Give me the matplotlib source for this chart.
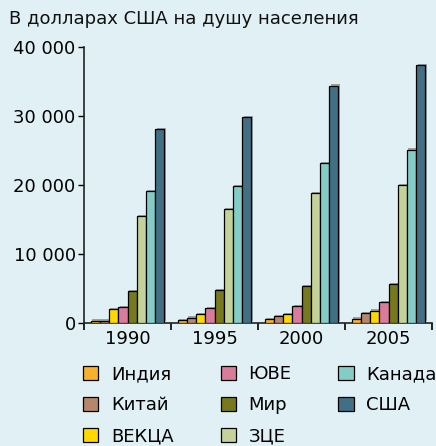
import matplotlib
matplotlib.use("Agg")
import matplotlib.pyplot as plt
import matplotlib.patheffects as pe
from matplotlib.patches import Patch
from matplotlib.ticker import FuncFormatter
import numpy as np

years = ["1990", "1995", "2000", "2005"]
regions = ["Индия", "Китай", "ВЕКЦА", "ЮВЕ", "Мир", "ЗЦЕ", "Канада", "США"]
values = {
    "Индия":  [300, 370, 480, 560],
    "Китай":  [300, 730, 920, 1360],
    "ВЕКЦА":  [1940, 1210, 1210, 1740],
    "ЮВЕ":    [2280, 2080, 2420, 2960],
    "Мир":    [4560, 4750, 5280, 5570],
    "ЗЦЕ":    [15460, 16480, 18800, 20010],
    "Канада": [19090, 19870, 23160, 25150],
    "США":    [28100, 29850, 34400, 37400],
}
colors = ["#F7B12A", "#B8876A", "#FFD800", "#D97C9C", "#77791E",
          "#C4D29A", "#85CCC6", "#436F84"]
title = "В долларах США на душу населения"

bg = "#E1F0F4"
plt.rcParams["font.family"] = ["DejaVu Sans"]
fs = 13

fig = plt.figure(figsize=(4.36, 4.46), dpi=100, facecolor=bg)
ax = fig.add_axes([84/436, 1-322.7/446, (432-84)/436, (322.7-47.3)/446])
ax.set_facecolor(bg)

n = len(regions)
group_w = 0.85
bw = group_w / n
x = np.arange(len(years))
shadow = [pe.SimplePatchShadow(offset=(1.0, 1.0), shadow_rgbFace="#555555", alpha=0.5), pe.Normal()]
for i, r in enumerate(regions):
    pos = x - group_w/2 + bw*(i + 0.5)
    bars = ax.bar(pos, values[r], width=bw, color=colors[i], edgecolor="black",
                  linewidth=0.9, zorder=3)
    for b in bars:
        b.set_path_effects(shadow)

ax.set_xlim(-0.5, len(years) - 0.5)
ax.set_ylim(0, 40000)
ax.set_yticks([0, 10000, 20000, 30000, 40000])
ax.yaxis.set_major_formatter(FuncFormatter(lambda v, p: f"{int(v):,}".replace(",", " ")))
ax.set_xticks(np.arange(len(years) + 1) - 0.5)
ax.set_xticklabels([])
ax.set_xticks(x, minor=True)
ax.set_xticklabels(years, minor=True)
ax.tick_params(axis="x", which="minor", length=0, pad=5, labelsize=fs)
ax.tick_params(axis="x", which="major", length=5, width=1.2, direction="out")
ax.tick_params(axis="y", length=4, width=1.0, labelsize=fs, pad=2)
for s in ["top", "right"]:
    ax.spines[s].set_visible(False)
for s in ["left", "bottom"]:
    ax.spines[s].set_linewidth(1.2)
    ax.spines[s].set_color("#222222")

fig.text(9/436, 1-19/446, title, fontsize=fs, va="center", ha="left", color="#111111")

handles = [Patch(facecolor=c, edgecolor="black", linewidth=0.9) for c in colors]
fig.legend(handles, regions, ncol=3, loc="upper left",
           bbox_to_anchor=(83/436, 1-365/446), frameon=False, fontsize=fs,
           handlelength=0.85, handleheight=0.85, handletextpad=0.7,
           columnspacing=2.6, labelspacing=0.72, borderpad=0, borderaxespad=0)

fig.savefig("out.png", dpi=100, facecolor=bg)
